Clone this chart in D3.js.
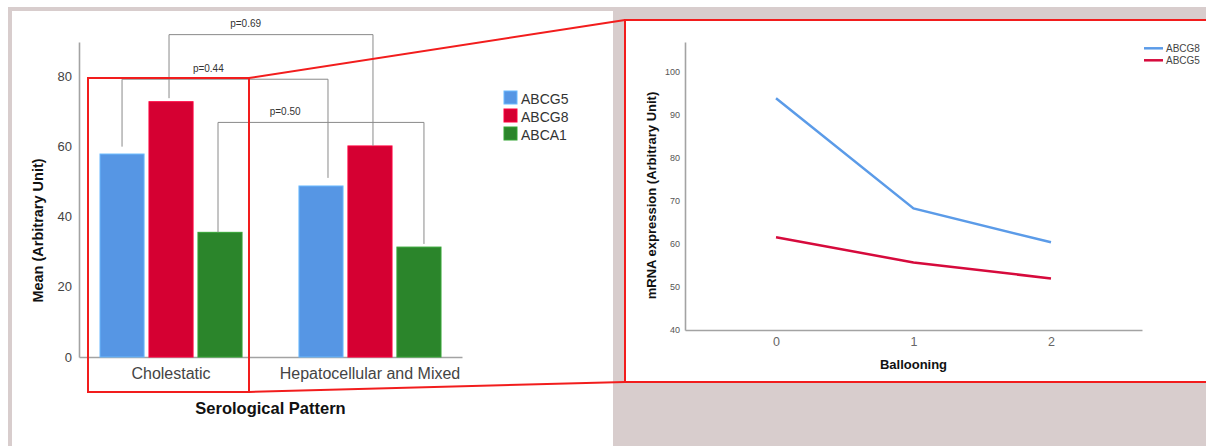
<!DOCTYPE html>
<html>
<head>
<meta charset="utf-8">
<script src="https://cdn.jsdelivr.net/npm/d3@7"></script>
<style>
  html, body { margin: 0; padding: 0; background: #ffffff; }
  svg { display: block; font-family: "Liberation Sans", Arial, sans-serif; }
</style>
</head>
<body>
<svg id="chart" width="1206" height="446"></svg>
<script>
// ---- Bar chart data: mean expression by serological pattern ----
const categories = ["Cholestatic", "Hepatocellular and Mixed"];
const genes = ["ABCG5", "ABCG8", "ABCA1"];
const abcg5Means = [57.8, 48.7];
const abcg8Means = [72.7, 60.1];
const abca1Means = [35.5, 31.3];
const leftTicks = [0, 20, 40, 60, 80];

// Comparison brackets between patterns, one per gene
const pLabels = ["p=0.44", "p=0.69", "p=0.50"];
const bracketGenes = ["ABCG5", "ABCG8", "ABCA1"];
const bracketLevels = [79.1, 91.8, 66.8];
const bracketLeftEnds = [59.9, 73.7, 35.5];
const bracketRightEnds = [51.0, 60.1, 32.2];

// ---- Line chart data: expression by ballooning grade ----
const ballooning = ["0", "1", "2"];
const lineSeries = ["ABCG8", "ABCG5"];
const abcg8ByGrade = [93.9, 68.3, 60.4];
const abcg5ByGrade = [61.6, 55.7, 52.0];
const rightTicks = [40, 50, 60, 70, 80, 90, 100];

const barValues = { ABCG5: abcg5Means, ABCG8: abcg8Means, ABCA1: abca1Means };
const barColors = { ABCG5: "#5696e4", ABCG8: "#d50032", ABCA1: "#2b852b" };
const lineValues = { ABCG8: abcg8ByGrade, ABCG5: abcg5ByGrade };
const lineColors = { ABCG8: "#5b9be8", ABCG5: "#d60a3c" };

const svg = d3.select("#chart");
const RED = "#f21d1d";

// ---- Page backgrounds ----
svg.append("rect").attr("width", 1206).attr("height", 446).attr("fill", "#ffffff");
svg.append("rect").attr("x", 8).attr("y", 7).attr("width", 1198).attr("height", 439).attr("fill", "#d8cdcd");
svg.append("rect").attr("x", 12).attr("y", 11).attr("width", 601).attr("height", 435).attr("fill", "#ffffff");

// ================= Left panel: grouped bars =================
const left = svg.append("g");
const y = d3.scaleLinear().domain([0, 89.7]).range([357, 42]);
const x0 = d3.scaleBand().domain(categories).range([79, 462])
  .paddingInner(0.286).paddingOuter(0.1055);
const x1 = d3.scaleBand().domain(genes).range([0, x0.bandwidth()]).paddingInner(0.1);

// axes
const yAxis = left.append("g").attr("transform", "translate(79,0)")
  .call(d3.axisLeft(y).tickValues(leftTicks).tickSize(0).tickPadding(7));
yAxis.select(".domain").attr("stroke", "#a3a3a3").attr("stroke-width", 1.6);
yAxis.selectAll("text").attr("font-size", 13).attr("fill", "#444").attr("font-family", "Liberation Sans, Arial, sans-serif");

const xAxis = left.append("g").attr("transform", "translate(0,357)")
  .call(d3.axisBottom(x0).tickSize(0).tickPadding(11));
xAxis.select(".domain").attr("stroke", "#a3a3a3").attr("stroke-width", 1.6);
xAxis.selectAll("text").attr("font-size", 16).attr("fill", "#444").attr("font-family", "Liberation Sans, Arial, sans-serif");

// bars
const groups = left.selectAll("g.cat").data(categories).join("g")
  .attr("class", "cat")
  .attr("transform", c => `translate(${x0(c)},0)`);
groups.selectAll("rect").data((c, i) => genes.map(g => ({ g, v: barValues[g][i] }))).join("rect")
  .attr("x", d => x1(d.g))
  .attr("width", x1.bandwidth())
  .attr("y", d => y(d.v))
  .attr("height", d => y(0) - y(d.v))
  .attr("fill", d => barColors[d.g])
  .attr("stroke", d => d3.color(barColors[d.g]).brighter(0.6))
  .attr("stroke-width", 1);

// comparison brackets
const endShift = [[0, 7], [-2, 3], [-2, 5]];
const labelFrac = [0.344, 0.30, 0.251];
bracketGenes.forEach((g, i) => {
  const xa = x0(categories[0]) + x1(g) + x1.bandwidth() / 2 + endShift[i][0];
  const xb = x0(categories[1]) + x1(g) + x1.bandwidth() / 2 + endShift[i][1];
  const yl = y(bracketLevels[i]);
  left.append("path")
    .attr("d", `M${xa},${y(bracketLeftEnds[i])}V${yl}H${xb}V${y(bracketRightEnds[i])}`)
    .attr("fill", "none").attr("stroke", "#8a8a8a").attr("stroke-width", 1);
  left.append("text")
    .attr("x", xa + labelFrac[i] * (xb - xa))
    .attr("y", yl - 7.5)
    .attr("font-size", 10).attr("fill", "#333")
    .text(pLabels[i]);
});

// legend
const leg = left.append("g").attr("transform", "translate(504,91)");
genes.forEach((g, i) => {
  leg.append("rect").attr("x", 0).attr("y", i * 18).attr("width", 13).attr("height", 13)
    .attr("fill", barColors[g]).attr("stroke", d3.color(barColors[g]).brighter(0.6)).attr("stroke-width", 1);
  leg.append("text").attr("x", 17).attr("y", i * 18 + 13)
    .attr("font-size", 14).attr("fill", "#333").text(g);
});

// axis titles
left.append("text")
  .attr("transform", "translate(43,230.5) rotate(-90)")
  .attr("text-anchor", "middle").attr("font-size", 14.5).attr("font-weight", "bold").attr("fill", "#111")
  .text("Mean (Arbitrary Unit)");
left.append("text")
  .attr("x", 270.5).attr("y", 414)
  .attr("text-anchor", "middle").attr("font-size", 16.5).attr("font-weight", "bold").attr("fill", "#111")
  .text("Serological Pattern");

// ================= Right panel: lines by ballooning =================
const right = svg.append("g");
right.append("rect").attr("x", 625).attr("y", 20).attr("width", 620).attr("height", 362)
  .attr("fill", "#ffffff").attr("stroke", RED).attr("stroke-width", 2);

const yr = d3.scaleLinear().domain([40, 107]).range([330, 42]);
const xr = d3.scalePoint().domain(ballooning).range([685, 1142]).padding(0.662);

const yrAxis = right.append("g").attr("transform", "translate(685,0)")
  .call(d3.axisLeft(yr).tickValues(rightTicks).tickSize(0).tickPadding(5));
yrAxis.select(".domain").attr("stroke", "#a3a3a3").attr("stroke-width", 1.6);
yrAxis.selectAll("text").attr("font-size", 9).attr("fill", "#555").attr("font-family", "Liberation Sans, Arial, sans-serif");

const xrAxis = right.append("g").attr("transform", "translate(0,330)")
  .call(d3.axisBottom(xr).tickSize(0).tickPadding(7));
xrAxis.select(".domain").attr("stroke", "#a3a3a3").attr("stroke-width", 1.6);
xrAxis.selectAll("text").attr("font-size", 12.5).attr("fill", "#666").attr("font-family", "Liberation Sans, Arial, sans-serif");

const line = d3.line().x((d, i) => xr(ballooning[i])).y(d => yr(d));
lineSeries.forEach(s => {
  right.append("path").datum(lineValues[s])
    .attr("d", line).attr("fill", "none")
    .attr("stroke", lineColors[s]).attr("stroke-width", 2.5);
});

const rleg = right.append("g").attr("transform", "translate(1144,48.3)");
lineSeries.forEach((s, i) => {
  rleg.append("line").attr("x1", 0).attr("x2", 19).attr("y1", i * 12).attr("y2", i * 12)
    .attr("stroke", lineColors[s]).attr("stroke-width", 2.5);
  rleg.append("text").attr("x", 22).attr("y", i * 12 + 3.6)
    .attr("font-size", 10).attr("fill", "#444").text(s);
});

right.append("text")
  .attr("transform", "translate(656,195.5) rotate(-90)")
  .attr("text-anchor", "middle").attr("font-size", 13).attr("font-weight", "bold").attr("fill", "#111")
  .text("mRNA expression (Arbitrary Unit)");
right.append("text")
  .attr("x", 913.5).attr("y", 368.5)
  .attr("text-anchor", "middle").attr("font-size", 13).attr("font-weight", "bold").attr("fill", "#111")
  .text("Ballooning");

// ================= Zoom callout linking the two panels =================
const callout = svg.append("g").attr("fill", "none").attr("stroke", RED).attr("stroke-width", 2);
callout.append("rect").attr("x", 88).attr("y", 78).attr("width", 161).attr("height", 314);
callout.append("line").attr("x1", 249).attr("y1", 78).attr("x2", 625).attr("y2", 20);
callout.append("line").attr("x1", 249).attr("y1", 392).attr("x2", 625).attr("y2", 382);
</script>
</body>
</html>
